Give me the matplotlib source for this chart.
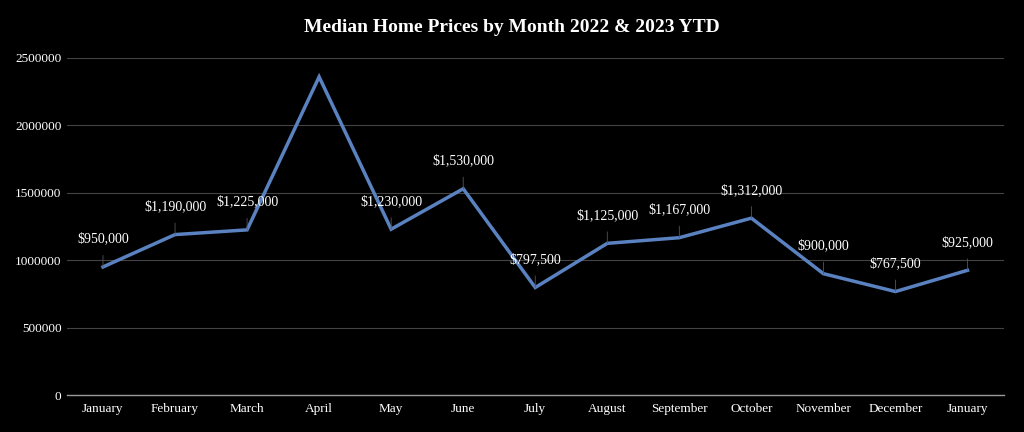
import numpy as np
import matplotlib.pyplot as plt

months = ['January', 'February', 'March', 'April', 'May', 'June', 'July',
          'August', 'September', 'October', 'November', 'December', 'January']
prices = [950000, 1190000, 1225000, 2360000, 1230000, 1530000, 797500,
          1125000, 1167000, 1312000, 900000, 767500, 925000]
# April has no label in the original
show_label = [True, True, True, False, True, True, True,
              True, True, True, True, True, True]

plt.rcParams['font.family'] = ['Liberation Serif', 'DejaVu Serif']

fig = plt.figure(figsize=(10.24, 4.32), dpi=100, facecolor='black')
ax = fig.add_axes([0.0654, 0.0856, 0.9146, 0.7802], facecolor='black')

x = np.arange(len(months))
ax.plot(x, prices, color='#5a82c0', lw=2.5, solid_joinstyle='miter', zorder=3)

for xi, v, show in zip(x, prices, show_label):
    if not show:
        continue
    ax.annotate(f'${v:,}', xy=(xi, v), xytext=(0, 20), textcoords='offset points',
                ha='center', va='center', color='white', fontsize=10,
                arrowprops=dict(arrowstyle='-', color='#555555', lw=0.6,
                                shrinkA=5, shrinkB=0), zorder=4)

ax.set_xlim(-0.5, len(months) - 0.5)
ax.set_ylim(0, 2500000)
ax.set_yticks(np.arange(0, 2500001, 500000))
ax.set_yticklabels([str(t) for t in range(0, 2500001, 500000)])
ax.set_xticks(x)
ax.set_xticklabels(months)
ax.tick_params(colors='white', length=0, labelsize=9.5)
ax.tick_params(axis='y', pad=4)
ax.tick_params(axis='x', pad=6)

ax.grid(axis='y', color='#444444', lw=0.8)
ax.set_axisbelow(True)
for s in ['top', 'right', 'left']:
    ax.spines[s].set_visible(False)
ax.spines['bottom'].set_color('#999999')
ax.spines['bottom'].set_linewidth(1)

fig.suptitle('Median Home Prices by Month 2022 & 2023 YTD', color='white',
             fontsize=14, fontweight='bold', y=0.955)

fig.savefig('out.png', facecolor='black')
